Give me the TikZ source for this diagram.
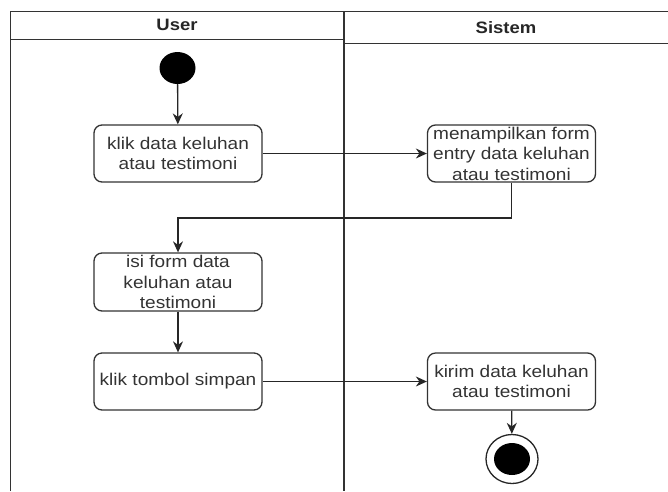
\documentclass[tikz,border=0pt]{standalone}
\usepackage{fontspec}
\setmainfont[FakeStretch=1.12]{Liberation Sans}
\usetikzlibrary{arrows.meta,shapes.geometric}
\begin{document}
\begin{tikzpicture}[x=1pt,y=-1pt,
  lane/.style={line width=1.4pt, draw=black!80},
  act/.style={draw=black!80, line width=1.3pt, rounded corners=8pt,
    minimum width=168pt, minimum height=57pt, align=center,
    font=\fontsize{17}{20.5}\selectfont, text=black!80, inner sep=0pt},
  flow/.style={line width=1.3pt, draw=black!85, -{Stealth[length=11pt,width=10pt]}},
  hdr/.style={font=\bfseries\fontsize{16.5}{19}\selectfont, text=black!85},
]
\useasboundingbox (0,0) rectangle (668,491);
% swimlanes
\draw[lane] (10.5,491) -- (10.5,11.5) -- (668,11.5);
\draw[lane] (344,11.5) -- (344,491);
\draw[lane] (10.5,39.5) -- (344,39.5);
\draw[lane] (344,43.5) -- (668,43.5);
\node[hdr] (hu) at (177,25) {User};
\node[hdr] (hs) at (506,27.5) {Sistem};
% start / end
\node[ellipse, fill=black, minimum width=36pt, minimum height=32pt, inner sep=0pt] (s) at (177.5,68) {};
\node[ellipse, draw=black!85, line width=1.3pt, minimum width=52pt, minimum height=49pt, inner sep=0pt] (e) at (512,459) {};
\node[ellipse, fill=black, minimum width=36pt, minimum height=32pt, inner sep=0pt] (ei) at (512,459) {};
% activities
\node[act] (a1) at (178,153.5) {klik data keluhan\\atau testimoni};
\node[act] (a2) at (511.5,153.5) {menampilkan form\\entry data keluhan\\atau testimoni};
\node[act, minimum height=58pt] (a3) at (178,282) {isi form data\\keluhan atau\\testimoni};
\node[act] (a4) at (178,381.5) {klik tombol simpan};
\node[act] (a5) at (511.5,381.5) {kirim data keluhan\\atau testimoni};
\coordinate (k) at (511.5,218);
% flows
\draw[flow] (s) -- (a1);
\draw[flow] (a1) -- (a2);
\draw[flow] (a2) -- (k) -| (a3);
\draw[flow] (a3) -- (a4);
\draw[flow] (a4) -- (a5);
\draw[flow] (a5) -- (e);
\end{tikzpicture}
\end{document}
